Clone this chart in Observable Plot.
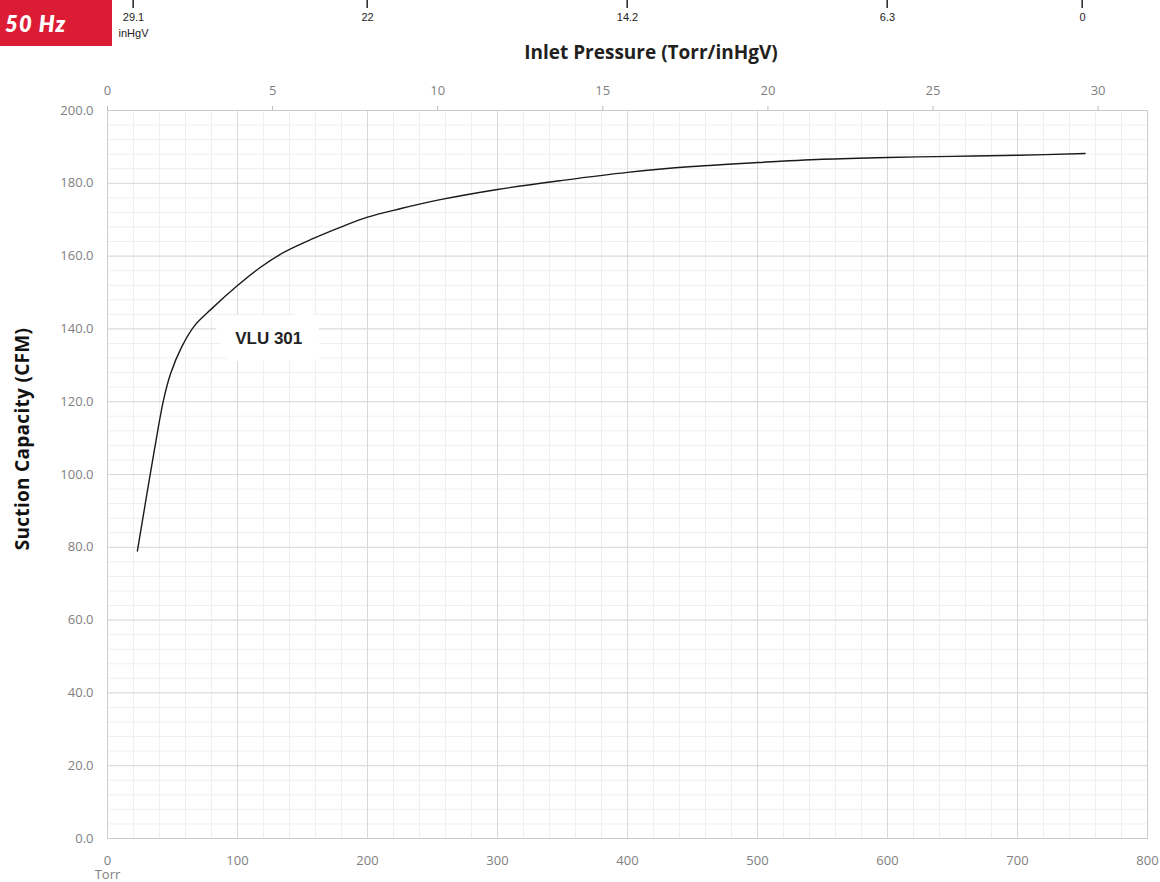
<!DOCTYPE html>
<html>
<head>
<meta charset="utf-8">
<script src="https://cdn.jsdelivr.net/npm/d3@7"></script>
<script src="https://cdn.jsdelivr.net/npm/@observablehq/plot@0.6"></script>
<style>
  body { margin: 0; background: #fff; }
  #wrap { position: relative; width: 1160px; height: 882px; overflow: hidden; }
  #chart, #vac { position: absolute; left: 0; top: 0; line-height: 0; }
  #chart svg, #vac svg { display: block; }
  #vac { z-index: 2; }
  #badge { position: absolute; left: 0; top: 0; width: 112px; height: 46px; background: #dc1c34; z-index: 3;
           color: #fff; font: italic 800 22px "Lato", "Open Sans", sans-serif; line-height: 48px;
           padding-left: 5px; box-sizing: border-box; letter-spacing: 1.2px; }
  #title { position: absolute; left: 651px; top: 52px; transform: translate(-50%, -50%);
           font: 700 19px "Open Sans", sans-serif; color: #231f20; white-space: nowrap; letter-spacing: 0px; }
  #ytitle { position: absolute; left: 22px; top: 439px; transform: translate(-50%, -50%) rotate(-90deg);
            font: 700 19px "Open Sans", sans-serif; color: #111; white-space: nowrap; letter-spacing: 0.3px; }
</style>
</head>
<body>
<div id="wrap">
  <div id="chart"></div>
  <div id="vac"></div>
  <div id="badge">50 Hz</div>
  <div id="title">Inlet Pressure (Torr/inHgV)</div>
  <div id="ytitle">Suction Capacity (CFM)</div>
</div>
<script>
// Curve: inlet pressure (Torr) vs suction capacity (CFM)
const torr = [23, 36, 43, 48.5, 57, 67, 80, 100, 118, 136, 158, 179, 200, 225, 256, 300, 350, 400, 450, 500, 550, 600, 650, 700, 752];
const cfm  = [79, 106.6, 120.3, 127.7, 135, 140.9, 145.5, 151.9, 157.0, 161.1, 164.8, 167.9, 170.7, 173.0, 175.5, 178.3, 180.8, 183.0, 184.6, 185.7, 186.6, 187.1, 187.4, 187.7, 188.2];

// Axis ticks
const torrTicks = [0, 100, 200, 300, 400, 500, 600, 700, 800];
const torrMinor = d3.range(0, 801, 20);
const cfmTicks = [0, 20, 40, 60, 80, 100, 120, 140, 160, 180, 200];
const cfmMinor = d3.range(0, 201, 4);
const inHgTicks = [0, 5, 10, 15, 20, 25, 30];
const TORR_PER_INHG = 25.4;
const vacTorr = [20, 200, 400, 600, 750];
const vacLabels = ["29.1\ninHgV", "22", "14.2", "6.3", "0"];

// Series label
const seriesName = "VLU 301";
const labelTorr = 124;
const labelCfm = 137.4;

const data = torr.map((t, i) => ({t, c: cfm[i]}));

const plot = Plot.plot({
  width: 1160,
  height: 882,
  marginLeft: 107,
  marginRight: 13,
  marginTop: 110,
  marginBottom: 44,
  x: {domain: [0, 800]},
  y: {domain: [0, 200]},
  style: {fontFamily: "'Open Sans', sans-serif", fontSize: "13px", background: "transparent", color: "#7f7f7f"},
  marks: [
    Plot.gridX(torrMinor, {stroke: "#efefef", strokeOpacity: 1}),
    Plot.gridY(cfmMinor, {stroke: "#efefef", strokeOpacity: 1}),
    Plot.gridX(torrTicks, {stroke: "#d9d9d9", strokeOpacity: 1}),
    Plot.gridY(cfmTicks, {stroke: "#d9d9d9", strokeOpacity: 1}),
    Plot.frame({stroke: "#cccccc"}),
    Plot.axisY(cfmTicks, {anchor: "left", tickSize: 0, tickPadding: 14, tickFormat: d => d.toFixed(1), label: null, fill: "#7f7f7f"}),
    Plot.axisX(torrTicks, {anchor: "bottom", tickSize: 0, tickPadding: 16, tickFormat: d => d === 0 ? "0\nTorr" : String(d), label: null, fill: "#7f7f7f", lineHeight: 1.12}),
    Plot.axisX(inHgTicks.map(v => v * TORR_PER_INHG), {anchor: "top", tickSize: 5, tickPadding: 11, tickFormat: d => String(Math.round(d / TORR_PER_INHG)), label: null, fill: "#7f7f7f", stroke: "#bdbdbd"}),
    Plot.line(data, {x: "t", y: "c", stroke: "#1a1a1a", strokeWidth: 1.4, curve: "catmull-rom"}),
    Plot.text([{x: labelTorr, y: labelCfm, t: seriesName}], {x: "x", y: "y", text: "t", fontFamily: "'Liberation Sans', Arial, sans-serif", fontWeight: "bold", fontSize: 17, fill: "#222", stroke: "white", strokeWidth: 34, strokeLinejoin: "miter", paintOrder: "stroke"})
  ]
});
document.getElementById("chart").appendChild(plot);

// Vacuum (inHgV) scale at the very top of the page, sharing the Torr x scale
const vacPlot = Plot.plot({
  width: 1160,
  height: 46,
  marginLeft: 107,
  marginRight: 13,
  marginTop: 0,
  marginBottom: 0,
  x: {domain: [0, 800], axis: null},
  y: {domain: [0, 46], range: [0, 46], axis: null},
  style: {background: "transparent", color: "#222", overflow: "visible"},
  marks: [
    Plot.rect(vacTorr, {x1: d => d, x2: d => d, y1: 0, y2: 8, insetLeft: -0.6, insetRight: -0.6, fill: "#333"}),
    Plot.ruleX(vacTorr, {x: d => d, y1: 0, y2: 8, stroke: "#333", strokeWidth: 1}),
    Plot.text(vacTorr, {x: d => d, y: 9, text: d => vacLabels[vacTorr.indexOf(d)], lineAnchor: "top", fill: "#222", fontFamily: "'Liberation Sans', Arial, sans-serif", fontSize: 11, lineHeight: 1.45})
  ]
});
document.getElementById("vac").appendChild(vacPlot);
</script>
</body>
</html>
